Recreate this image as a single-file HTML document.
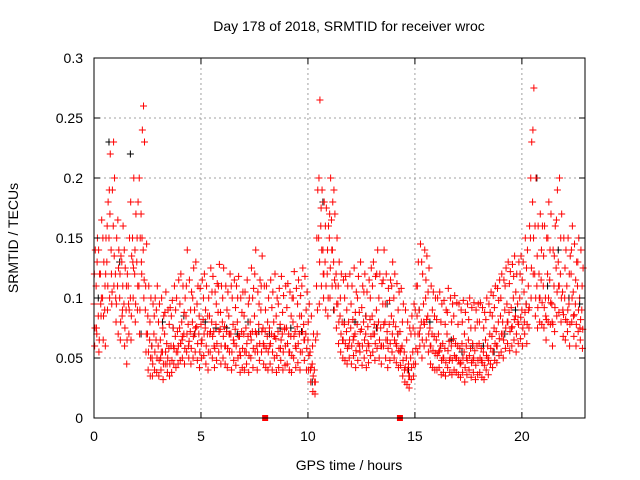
<!DOCTYPE html>
<html><head><meta charset="utf-8"><style>
html,body{margin:0;padding:0;background:#fff;}
svg{display:block;font-family:"Liberation Sans",sans-serif;}
</style></head><body>
<svg id="chart" width="640" height="480" viewBox="0 0 640 480" xmlns="http://www.w3.org/2000/svg">
<rect width="640" height="480" fill="#fff"/>
<text x="349" y="31" font-size="14" text-anchor="middle">Day 178 of 2018, SRMTID for receiver wroc</text>
<g id="grid"></g>
<g id="marks"></g>
<rect x="94" y="58" width="491" height="360" fill="none" stroke="#000" stroke-width="1"/>
<g id="ticks"></g>
<text x="349" y="470" font-size="14" text-anchor="middle">GPS time / hours</text>
<text transform="translate(18,238) rotate(-90)" font-size="14" text-anchor="middle">SRMTID / TECUs</text>
</svg>
<script>
const xTicks=[0,5,10,15,20];
const yTicks=[0,0.05,0.1,0.15,0.2,0.25,0.3];
const yTickLabels=["0","0.05","0.1","0.15","0.2","0.25","0.3"];
const hourStep=0.1;
const redCenter=[95,110,85,120,100,90,130,150,140,160,120,110,100,130,95,90,110,100,150,120,130,110,170,140,90,70,65,60,70,65,60,65,55,70,62,58,60,75,68,72,75,80,70,85,78,72,80,90,76,70,78,82,75,70,85,80,72,78,88,74,80,76,72,85,70,78,74,80,68,72,70,75,68,80,72,85,70,78,90,75,72,68,75,70,80,66,72,78,70,74,75,70,68,80,72,76,70,85,78,70,65,55,45,40,110,150,160,140,130,120,150,165,130,110,95,85,80,78,72,80,75,82,70,78,88,74,80,70,76,82,85,78,90,80,75,95,80,72,78,85,80,76,70,72,60,55,50,45,50,55,70,85,90,80,95,100,85,75,70,68,65,70,60,62,58,70,64,60,66,62,60,58,62,55,60,65,58,62,56,60,62,58,55,65,60,70,68,75,72,80,85,80,90,95,88,92,100,85,95,100,90,105,95,110,150,180,120,110,120,115,110,100,120,115,95,110,125,130,120,105,100,110,95,120,105,95,110,100,90];
const redUpper=[140,150,120,165,130,150,180,220,190,200,150,140,135,160,125,120,150,135,200,170,180,150,240,230,145,110,100,95,100,110,95,100,85,105,90,92,98,110,100,115,120,110,100,140,115,105,125,130,110,108,115,120,110,100,125,118,105,112,128,110,125,110,105,120,100,115,110,118,100,105,105,115,100,125,108,140,105,115,135,110,110,100,115,105,120,100,108,118,102,110,112,105,100,122,108,115,102,125,118,105,95,85,70,65,190,265,190,180,175,160,200,180,170,150,130,120,115,118,110,120,110,125,105,118,130,110,120,105,115,125,130,118,140,120,112,140,120,108,115,130,120,112,105,108,95,90,80,75,85,95,110,130,145,120,140,135,125,110,105,100,100,105,95,98,90,108,100,95,102,96,95,90,98,88,95,100,92,96,90,95,96,92,88,100,95,105,102,110,108,115,120,115,125,130,122,128,135,120,130,135,130,150,140,160,230,275,200,160,170,160,160,150,180,170,140,160,190,200,170,150,140,150,135,160,145,130,150,140,125];
const redLower=[60,70,55,85,65,60,90,100,95,110,80,70,65,90,60,45,70,65,100,80,90,70,120,100,55,40,35,35,40,38,35,40,32,45,38,35,38,45,42,45,48,50,45,55,50,45,50,55,48,42,50,52,45,40,55,50,42,48,55,45,50,45,42,55,40,48,44,50,38,42,40,45,38,50,42,55,40,48,55,45,42,40,45,40,50,38,42,48,40,44,45,40,38,50,42,46,40,55,48,40,40,30,22,20,70,95,110,100,90,85,100,110,90,75,62,55,50,48,45,50,45,52,42,48,55,44,50,42,46,52,55,48,58,50,45,60,50,42,48,55,50,46,42,44,35,30,28,25,32,35,45,55,60,50,60,65,55,45,42,40,40,42,36,38,35,42,38,36,40,38,36,34,38,30,36,40,34,38,32,36,38,34,32,40,36,45,42,48,46,52,55,50,58,62,56,60,65,55,62,66,60,70,62,75,100,120,85,75,80,78,75,65,80,78,60,72,85,88,80,68,65,72,60,80,68,60,72,65,58];
const redMidHigh=[120,75,140,95,150,110,160,190,120,230,100,165,120,85,140,110,95,180,130,140,150,200,130,260,110,85,80,50,85,90,80,50,75,88,45,78,85,60,90,55,95,65,88,110,60,90,100,70,95,85,62,100,90,85,70,105,60,95,110,88,100,60,90,70,110,65,92,100,55,88,85,55,95,70,100,120,60,95,110,62,90,80,60,92,68,85,95,58,88,75,92,55,85,100,60,95,85,110,65,90,80,40,60,30,150,200,175,120,160,140,170,140,190,120,110,100,65,100,90,60,95,65,88,100,60,92,105,85,62,100,110,70,120,100,60,115,95,65,98,110,100,62,90,55,80,40,65,35,70,75,90,110,70,130,80,115,105,60,90,85,82,55,80,50,78,88,48,80,85,50,78,45,80,70,50,82,75,48,75,80,80,48,75,82,50,88,85,92,60,98,100,70,110,80,112,75,118,105,80,120,115,80,125,90,200,240,160,135,100,140,135,85,150,140,80,135,165,110,150,90,125,80,120,140,85,115,130,75,110];
const redMidLow=[75,130,65,100,85,120,110,170,105,135,95,125,80,110,75,65,90,85,125,95,110,90,150,115,70,55,50,45,55,50,48,55,45,55,50,45,48,58,55,60,62,68,58,70,64,58,68,75,62,55,65,70,60,55,72,68,58,62,72,60,68,60,58,70,55,62,60,68,52,58,55,62,52,65,58,72,55,62,72,60,58,55,62,55,68,52,58,65,55,60,62,55,52,68,58,62,55,72,65,58,52,42,35,30,90,130,140,120,110,100,125,140,115,95,80,70,65,62,58,65,60,68,56,62,72,60,65,56,60,68,70,62,75,65,60,78,65,58,62,70,65,60,56,58,48,42,40,35,42,45,58,70,75,65,78,82,70,60,56,54,52,56,48,50,46,56,50,48,52,50,48,46,50,42,48,52,46,50,44,48,50,46,44,52,48,58,55,62,60,66,70,65,75,80,72,76,82,70,78,84,75,88,78,92,125,150,100,92,100,96,92,82,100,96,78,92,105,110,100,86,82,90,78,100,86,78,90,82,74];
const blackStep=0.5;
const blackValues=[100,230,130,220,70,60,80,75,85,70,80,75,75,70,80,72,70,75,75,72,30,180,90,80,80,85,75,95,70,40,90,80,60,65,55,60,60,55,70,90,95,200,110,140,100,95];
const gapHours=[8.0,14.3];

const X0=94,X1=585,XMAX=22.95,Y0=418,Y1=58,YMAX=0.3;
const xs=v=>X0+(v/XMAX)*(X1-X0);
const ys=v=>Y0-(v/YMAX)*(Y0-Y1);
const NS="http://www.w3.org/2000/svg";
const grid=document.getElementById('grid'),ticks=document.getElementById('ticks'),marks=document.getElementById('marks');
function mk(tag,attrs,parent){const e=document.createElementNS(NS,tag);for(const k in attrs)e.setAttribute(k,attrs[k]);parent.appendChild(e);return e;}
xTicks.forEach(t=>{const x=xs(t);
 if(t>0){const g=mk('line',{x1:x,x2:x,y1:Y1,y2:Y0,stroke:'#a0a0a0','stroke-dasharray':'2,3'},grid);
 
 }
 const tk=mk('path',{d:`M${x},${Y0}v-6M${x},${Y1}v6`,stroke:'#000'},ticks);
 
 
 const lb=mk('text',{x:x,y:Y0+23,'font-size':14,'text-anchor':'middle'},ticks);lb.textContent=String(t);
 
 
});
yTicks.forEach((t,i)=>{const y=ys(t);
 if(t>0&&t<YMAX){const g=mk('line',{x1:X0,x2:X1,y1:y,y2:y,stroke:'#a0a0a0','stroke-dasharray':'2,3'},grid);
 
 }
 const tk=mk('path',{d:`M${X0},${y}h6M${X1},${y}h-6`,stroke:'#000'},ticks);
 
 
 const lb=mk('text',{x:X0-11,y:y+5,'font-size':14,'text-anchor':'end'},ticks);lb.textContent=yTickLabels[i];
 
 
});
function plus(arr,step,off,color,name){let d='';arr.forEach((v,i)=>{const x=xs(i*step+off),y=ys(v/1000);d+=`M${x-3.5},${y}h7M${x},${y-3.5}v7`;});
 const p=mk('path',{d:d,stroke:color,'stroke-width':1,fill:'none'},marks);
 
 }
plus(blackValues,blackStep,0.2,'#000','black-series');
plus(redLower,hourStep,0.03,'#f00','red-series-lower');
plus(redMidLow,hourStep,0.045,'#f00','red-series-mid-low');
plus(redCenter,hourStep,0,'#f00','red-series-center');
plus(redMidHigh,hourStep,0.015,'#f00','red-series-mid-high');
plus(redUpper,hourStep,0.06,'#f00','red-series-upper');
gapHours.forEach(h=>{const r=mk('rect',{x:xs(h)-3,y:Y0-3,width:6,height:6,fill:'#f00'},marks);
 
 });
</script>
</body></html>
